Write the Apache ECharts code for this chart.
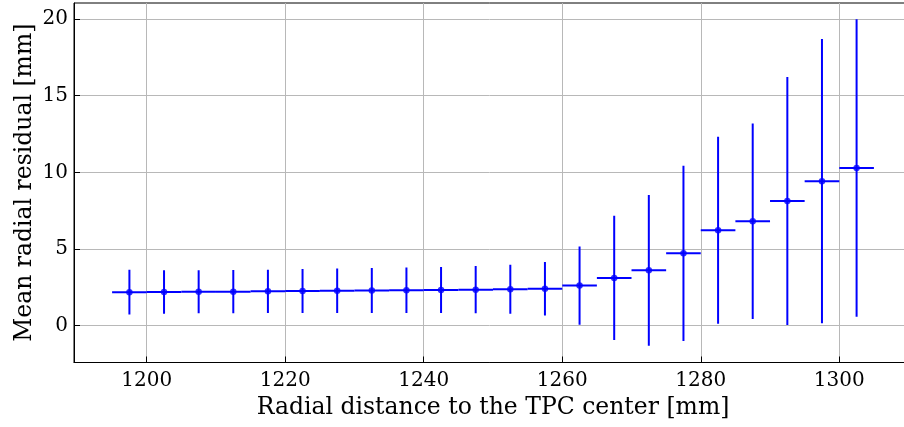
<!DOCTYPE html>
<html>
<head>
<meta charset="utf-8">
<script src="https://cdn.jsdelivr.net/npm/echarts@6/dist/echarts.min.js"></script>
<style>html,body{margin:0;padding:0;background:#fff;overflow:hidden;}#c{width:904px;height:427px;}</style>
</head>
<body>
<div id="c"></div>
<script>
// Data
var binCenters = [1197.5,1202.5,1207.5,1212.5,1217.5,1222.5,1227.5,1232.5,1237.5,1242.5,1247.5,1252.5,1257.5,1262.5,1267.5,1272.5,1277.5,1282.5,1287.5,1292.5,1297.5,1302.5];
var meanResidual = [2.19,2.20,2.21,2.22,2.24,2.26,2.28,2.30,2.31,2.33,2.35,2.38,2.41,2.62,3.12,3.61,4.72,6.23,6.81,8.13,9.43,10.29];
var residualErr = [1.465,1.415,1.405,1.415,1.41,1.435,1.445,1.465,1.485,1.50,1.545,1.60,1.74,2.55,4.055,4.91,5.72,6.10,6.375,8.09,9.275,9.705];
var binHalfWidth = 2.5;
var xTicks = [1200,1220,1240,1260,1280,1300];
var yTicks = [0,5,10,15,20];

var errData = binCenters.map(function(x,i){return [x, meanResidual[i], residualErr[i]];});
var ptData = binCenters.map(function(x,i){return [x, meanResidual[i]];});

var chart = echarts.init(document.getElementById('c'), null, {renderer:'canvas'});
var font = 'DejaVu Serif';
chart.setOption({
  animation:false,
  backgroundColor:'#fff',
  grid:{left:74, width:838, top:3, bottom:64.5, show:true, borderColor:'#000', borderWidth:1,
    backgroundColor:'transparent', containLabel:false, outerBoundsMode:'none'},
  xAxis:{
    type:'value', min:1189.5, max:1310.5,
    name:'Radial distance to the TPC center [mm]', nameLocation:'middle', nameGap:33, nameMoveOverlap:false,
    nameTextStyle:{fontFamily:font, fontSize:23.5, color:'#000'},
    axisLine:{show:true, onZero:false, lineStyle:{color:'#000', width:1}},
    axisTick:{show:true, inside:true, length:6, customValues:xTicks, lineStyle:{color:'#000'}},
    axisLabel:{customValues:xTicks, fontFamily:font, fontSize:20, color:'#000', margin:8,
      formatter:function(v){return String(v);}},
    splitLine:{show:true, lineStyle:{color:'#b8b8b8', width:1}}
  },
  yAxis:{
    type:'value', min:-2.4, max:21.05,
    name:'Mean radial residual [mm]', nameLocation:'middle', nameGap:37, nameRotate:90, nameMoveOverlap:false,
    nameTextStyle:{fontFamily:font, fontSize:23.5, color:'#000'},
    axisLine:{show:true, onZero:false, lineStyle:{color:'#000', width:1}},
    axisTick:{show:true, inside:true, length:6, customValues:yTicks, lineStyle:{color:'#000'}},
    axisLabel:{customValues:yTicks, fontFamily:font, fontSize:20, color:'#000', margin:6,
      formatter:function(v){return String(v);}},
    splitLine:{show:true, lineStyle:{color:'#b8b8b8', width:1}}
  },
  series:[
    {
      type:'custom', data:errData, encode:{x:0,y:1}, z:3, clip:true,
      renderItem:function(params, api){
        var x = api.value(0), y = api.value(1), e = api.value(2);
        var top = api.coord([x, y+e]), bot = api.coord([x, y-e]);
        var l = api.coord([x-binHalfWidth, y]), r = api.coord([x+binHalfWidth, y]);
        var st = {stroke:'#0000ff', lineWidth:2};
        return {type:'group', children:[
          {type:'line', shape:{x1:top[0], y1:top[1], x2:bot[0], y2:bot[1]}, style:st},
          {type:'line', shape:{x1:l[0], y1:l[1], x2:r[0], y2:r[1]}, style:st}
        ]};
      }
    },
    {
      type:'scatter', data:ptData, symbol:'circle', symbolSize:6.5, z:4,
      itemStyle:{color:'#0000ff'}
    }
  ]
});
</script>
</body>
</html>
